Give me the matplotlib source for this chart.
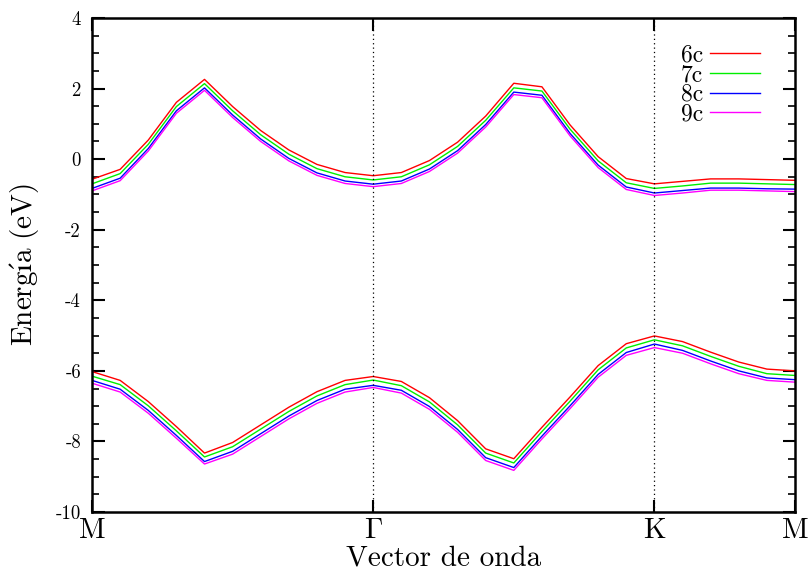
import matplotlib
matplotlib.use("Agg")
import matplotlib.pyplot as plt
import numpy as np

plt.rcParams['font.family'] = 'serif'
plt.rcParams['font.serif'] = ['cmr10']
plt.rcParams['mathtext.fontset'] = 'cm'
plt.rcParams['axes.unicode_minus'] = False

# índice de punto k a lo largo del camino M-Γ-K-M
k = np.arange(26)

# banda de conducción (eV)
c6 = [-0.57, -0.29, 0.54, 1.61, 2.26, 1.49, 0.81, 0.26, -0.15, -0.38, -0.47, -0.38, -0.04,
      0.48, 1.22, 2.15, 2.05, 0.97, 0.07, -0.55, -0.70, -0.63, -0.56, -0.56, -0.58, -0.60]
c7 = [-0.70, -0.41, 0.42, 1.49, 2.14, 1.37, 0.69, 0.14, -0.27, -0.50, -0.59, -0.50, -0.16,
      0.36, 1.10, 2.02, 1.93, 0.85, -0.05, -0.67, -0.83, -0.76, -0.68, -0.68, -0.70, -0.72]
c8 = [-0.83, -0.54, 0.30, 1.37, 2.02, 1.25, 0.57, 0.02, -0.39, -0.62, -0.71, -0.62, -0.28,
      0.24, 0.98, 1.90, 1.81, 0.73, -0.17, -0.79, -0.96, -0.89, -0.82, -0.82, -0.84, -0.85]
c9 = [-0.90, -0.61, 0.23, 1.30, 1.95, 1.18, 0.50, -0.05, -0.46, -0.69, -0.78, -0.69, -0.35,
      0.17, 0.91, 1.83, 1.74, 0.66, -0.24, -0.86, -1.03, -0.96, -0.88, -0.88, -0.90, -0.92]

# banda de valencia (eV)
v6 = [-6.02, -6.27, -6.87, -7.58, -8.33, -8.03, -7.53, -7.03, -6.59, -6.27, -6.16, -6.30, -6.76,
      -7.41, -8.21, -8.49, -7.60, -6.74, -5.85, -5.23, -5.01, -5.17, -5.47, -5.75, -5.95, -6.00]
v7 = [-6.15, -6.39, -6.99, -7.70, -8.44, -8.15, -7.65, -7.15, -6.71, -6.39, -6.26, -6.42, -6.88,
      -7.53, -8.33, -8.61, -7.72, -6.86, -5.97, -5.35, -5.12, -5.29, -5.59, -5.87, -6.08, -6.13]
v8 = [-6.27, -6.52, -7.12, -7.83, -8.57, -8.28, -7.78, -7.28, -6.84, -6.52, -6.41, -6.55, -7.01,
      -7.66, -8.46, -8.74, -7.85, -6.99, -6.10, -5.48, -5.24, -5.42, -5.72, -6.00, -6.20, -6.25]
v9 = [-6.35, -6.60, -7.20, -7.91, -8.64, -8.36, -7.86, -7.36, -6.92, -6.60, -6.47, -6.63, -7.09,
      -7.74, -8.54, -8.82, -7.93, -7.07, -6.18, -5.56, -5.34, -5.50, -5.80, -6.08, -6.27, -6.32]

labels = ['6c', '7c', '8c', '9c']
colors = ['#ff0000', '#00ee00', '#0000ff', '#ff00ff']
cond = [c6, c7, c8, c9]
val = [v6, v7, v8, v9]

kpos = [0, 10, 20, 25]
klabels = ['M', r'$\Gamma$', 'K', 'M']

fig = plt.figure(figsize=(8.08, 5.71), dpi=100)
ax = fig.add_axes([0.1139, 0.1033, 0.8700, 0.8652])

for lab, col, c, v in zip(labels, colors, cond, val):
    ax.plot(k, c, color=col, lw=1.0, label=lab)
    ax.plot(k, v, color=col, lw=1.0)

for x in kpos[1:3]:
    ax.axvline(x, color='black', lw=0.9, ls=(0, (1, 2.5)))

ax.set_xlim(0, 25)
ax.set_ylim(-10, 4)
ax.set_xticks(kpos)
ax.set_xticklabels(klabels, fontsize=21)
yt = np.arange(-10, 5, 2)
ax.set_yticks(yt)
ax.set_yticklabels([str(v) for v in yt], fontsize=13.5)
ax.set_yticks(np.arange(-10, 4.1, 0.5), minor=True)

ax.tick_params(axis='both', which='major', direction='in', length=9, width=1.5,
               top=True, right=True)
ax.tick_params(axis='y', which='minor', direction='in', length=5, width=1.2, right=True)
ax.tick_params(axis='x', which='major', pad=4)
ax.tick_params(axis='y', which='major', pad=8)
for s in ax.spines.values():
    s.set_linewidth(1.8)

ax.set_xlabel('Vector de onda', fontsize=21, labelpad=1)
ax.set_ylabel(r"$\mathrm{Energ\'{\i}a\ (eV)}$", fontsize=21, labelpad=10)

ax.legend(loc='upper right', bbox_to_anchor=(0.98, 0.99), frameon=False, markerfirst=False,
          fontsize=17, handlelength=2.1, handletextpad=0.3, labelspacing=-0.1)

fig.savefig('out.png', dpi=100)
